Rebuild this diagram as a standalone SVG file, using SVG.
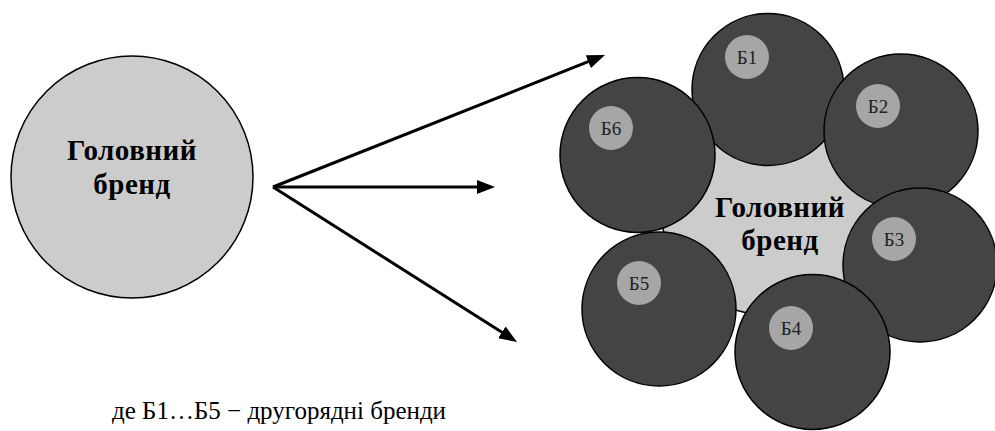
<svg xmlns="http://www.w3.org/2000/svg" width="995" height="431" viewBox="0 0 995 431">
<style>
.main{fill:#cccccc;stroke:#000;stroke-width:1.5}
.sub{fill:#444444;stroke:#000;stroke-width:1.5}
.lbl{fill:#a6a6a6}
.big{font-family:'Liberation Serif','Times New Roman',serif;font-weight:bold;font-size:29px;fill:#000;text-anchor:middle;letter-spacing:0.5px}
.small{font-family:'Liberation Serif','Times New Roman',serif;font-size:19px;fill:#222;text-anchor:middle}
.note{font-family:'Liberation Serif','Times New Roman',serif;font-size:25px;fill:#000}
.arr{stroke:#000;stroke-width:3;fill:none;marker-end:url(#ah)}
</style>
<defs>
<marker id="ah" markerUnits="userSpaceOnUse" markerWidth="18" markerHeight="14" refX="8" refY="7" orient="auto">
<path d="M0,0 L18,7 L0,14 z" fill="#000"/>
</marker>
</defs>
<rect width="995" height="431" fill="#fff"/>
<g id="head-brand">
<circle class="main" cx="132" cy="177" r="121"/>
<text class="big" x="132" y="160">Головний</text>
<text class="big" x="132" y="194">бренд</text>
</g>
<g id="connectors">
<line class="arr" x1="273" y1="187" x2="595.7" y2="58.7"/>
<line class="arr" x1="273" y1="187" x2="485" y2="187"/>
<line class="arr" x1="273" y1="187" x2="508.6" y2="336.6"/>
</g>
<g id="cluster-center">
<circle class="main" cx="768" cy="208" r="107"/>
</g>
<g id="b1">
<circle class="sub" cx="768" cy="89.5" r="76"/>
<circle class="lbl" cx="747" cy="57" r="22"/>
<text class="small" x="747" y="64">Б1</text>
</g>
<g id="b6">
<circle class="sub" cx="637.5" cy="155" r="77.5"/>
<circle class="lbl" cx="611" cy="128" r="22"/>
<text class="small" x="611" y="135">Б6</text>
</g>
<g id="b2">
<circle class="sub" cx="901" cy="131" r="77"/>
<circle class="lbl" cx="878" cy="106" r="22"/>
<text class="small" x="878" y="113">Б2</text>
</g>
<g id="b3">
<circle class="sub" cx="920" cy="265" r="77"/>
<circle class="lbl" cx="894" cy="239" r="22"/>
<text class="small" x="894" y="246">Б3</text>
</g>
<g id="b4">
<circle class="sub" cx="812.5" cy="352" r="77.5"/>
<circle class="lbl" cx="791" cy="328" r="22"/>
<text class="small" x="791" y="335">Б4</text>
</g>
<g id="b5">
<circle class="sub" cx="659" cy="309" r="77"/>
<circle class="lbl" cx="639" cy="283" r="22"/>
<text class="small" x="639" y="290">Б5</text>
</g>
<g id="cluster-label">
<text class="big" x="780" y="217">Головний</text>
<text class="big" x="780" y="250">бренд</text>
</g>
<text class="note" x="112" y="419">де Б1…Б5 − другорядні бренди</text>
</svg>
